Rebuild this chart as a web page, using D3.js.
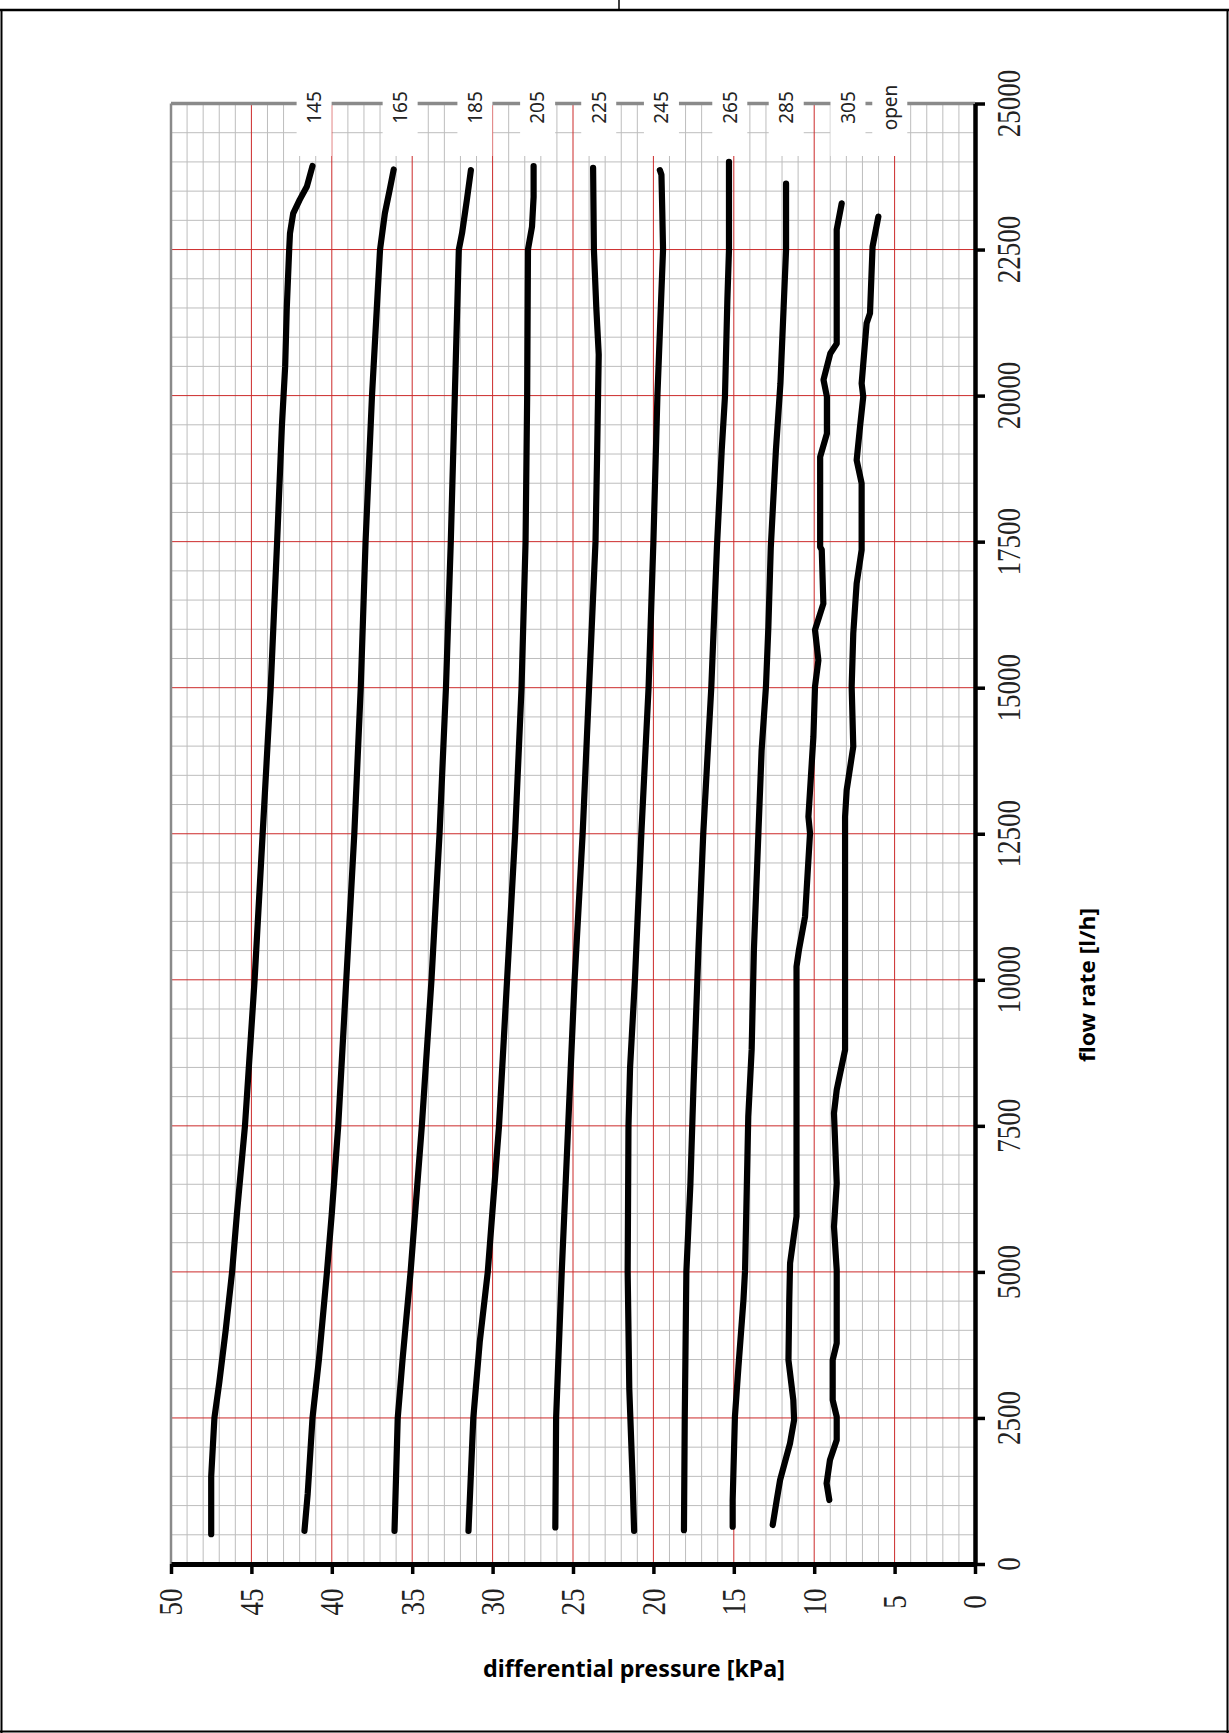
<!DOCTYPE html>
<html>
<head>
<meta charset="utf-8">
<script src="https://cdn.jsdelivr.net/npm/d3@7"></script>
<style>
  body { margin: 0; background: #fff; }
  svg { display: block; }
</style>
</head>
<body>
<svg id="chart" width="1229" height="1733"></svg>
<script>
// legend labels along the top edge, and the pressure (kPa) where each sits
const seriesLabels = ["145", "165", "185", "205", "225", "245", "265", "285", "305", "open"];
const labelAt = [41.1, 35.75, 31.1, 27.2, 23.4, 19.5, 15.25, 11.74, 7.9, 5.3];

// each curve: [flow rate l/h, differential pressure kPa]
const curve145 = [[511,47.5],[1500,47.5],[2500,47.3],[3100,47.0],[4000,46.6],[5000,46.2],[6000,45.9],[7500,45.4],[10000,44.8],[12500,44.3],[15000,43.8],[17500,43.4],[19500,43.1],[20500,42.9],[21500,42.8],[22500,42.65],[22780,42.6],[23120,42.4],[23350,42.0],[23580,41.55],[23930,41.2]];
const curve165 = [[568,41.7],[1200,41.5],[2500,41.2],[3500,40.8],[5000,40.3],[6000,40.0],[7500,39.6],[10000,39.1],[12500,38.6],[15000,38.2],[17500,37.9],[20000,37.5],[21500,37.2],[22500,37.0],[23120,36.7],[23520,36.4],[23870,36.15]];
const curve185 = [[568,36.1],[2500,35.9],[3500,35.6],[5000,35.1],[7500,34.4],[10000,33.8],[12500,33.3],[15000,32.9],[17500,32.6],[20000,32.35],[22500,32.1],[22780,31.9],[23350,31.6],[23860,31.35]];
const curve205 = [[568,31.5],[2500,31.2],[3800,30.8],[5000,30.3],[7500,29.6],[10000,29.1],[12500,28.6],[15000,28.2],[17500,27.95],[20000,27.85],[22500,27.8],[22890,27.55],[23400,27.45],[23930,27.45]];
const curve225 = [[625,26.1],[2500,26.05],[5000,25.7],[7500,25.3],[10000,24.9],[12500,24.4],[15000,24.0],[17500,23.6],[19000,23.5],[20700,23.4],[21500,23.55],[22500,23.7],[23900,23.75]];
const curve245 = [[568,21.2],[1500,21.3],[3000,21.5],[5000,21.6],[7500,21.55],[8500,21.45],[10000,21.15],[12500,20.75],[15000,20.3],[17500,20.0],[20000,19.75],[22500,19.4],[23180,19.45],[23780,19.5],[23860,19.6]];
const curve265 = [[580,18.1],[2500,18.05],[5000,17.95],[6500,17.7],[8230,17.5],[10510,17.2],[12500,16.9],[15000,16.4],[17400,16.05],[19070,15.75],[19980,15.55],[21640,15.4],[22490,15.3],[24000,15.3]];
const curve285 = [[638,15.07],[1095,15.07],[2520,14.93],[3380,14.71],[4520,14.4],[5030,14.3],[7660,14.1],[8800,13.89],[10510,13.75],[12510,13.47],[13930,13.27],[15020,13.0],[16040,12.85],[17400,12.7],[19070,12.38],[20210,12.1],[21520,11.9],[22490,11.75],[23630,11.75]];
const curve305 = [[667,12.58],[1095,12.33],[1440,12.12],[2070,11.5],[2465,11.25],[2810,11.3],[3490,11.6],[4520,11.55],[5150,11.5],[5950,11.1],[10225,11.1],[10510,10.95],[11080,10.57],[12510,10.26],[12790,10.36],[14160,10.05],[15020,9.95],[15470,9.74],[15990,9.95],[16440,9.43],[17360,9.53],[17410,9.63],[18950,9.63],[19350,9.21],[19980,9.21],[20270,9.42],[20720,9.0],[20890,8.6],[22840,8.6],[23290,8.29]];
const curveOpen = [[1095,9.06],[1381,9.23],[1780,9.02],[2123,8.6],[2522,8.6],[2808,8.85],[3492,8.85],[3777,8.6],[5033,8.6],[5775,8.77],[6517,8.6],[7716,8.77],[8115,8.6],[8800,8.08],[12792,8.08],[13250,7.98],[13991,7.57],[15018,7.67],[15930,7.57],[16786,7.36],[17357,7.05],[18497,7.05],[18896,7.36],[19467,7.15],[19981,6.95],[20209,7.05],[21237,6.74],[21408,6.53],[22549,6.37],[23063,6.01]];

const pressureTicks = [50, 45, 40, 35, 30, 25, 20, 15, 10, 5, 0];
const flowTicks = [0, 2500, 5000, 7500, 10000, 12500, 15000, 17500, 20000, 22500, 25000];

const curves = [curve145, curve165, curve185, curve205, curve225, curve245, curve265, curve285, curve305, curveOpen];

const svg = d3.select("#chart");
const W = 1229, H = 1733;

// chart is drawn turned on its side: pressure runs left (50) to right (0), flow bottom to top
const x = d3.scaleLinear().domain([50, 0]).range([171, 975]);
const y = d3.scaleLinear().domain([0, 25000]).range([1564, 103.5]);

// page frame
const frame = svg.append("g").attr("stroke", "#000").attr("fill", "none");
frame.append("line").attr("x1", 0).attr("x2", W).attr("y1", 10).attr("y2", 10).attr("stroke-width", 2.5);
frame.append("line").attr("x1", 619).attr("x2", 619).attr("y1", 0).attr("y2", 10).attr("stroke-width", 1.5);
frame.append("line").attr("x1", 1.5).attr("x2", 1.5).attr("y1", 10).attr("y2", H).attr("stroke-width", 2);
frame.append("line").attr("x1", W - 1.5).attr("x2", W - 1.5).attr("y1", 10).attr("y2", H).attr("stroke-width", 2);
frame.append("line").attr("x1", 0).attr("x2", W).attr("y1", H - 1.5).attr("y2", H - 1.5).attr("stroke-width", 2);

// minor grid: every 1 kPa and every 500 l/h
const grid = svg.append("g");
grid.selectAll(".vminor").data(d3.range(1, 50).filter(d => d % 5 !== 0)).join("line")
  .attr("x1", d => x(d)).attr("x2", d => x(d))
  .attr("y1", y(25000)).attr("y2", y(0))
  .attr("stroke", "#bdbdbd").attr("stroke-width", 1);
grid.selectAll(".hminor").data(d3.range(500, 25000, 500).filter(d => d % 2500 !== 0)).join("line")
  .attr("x1", x(50)).attr("x2", x(0))
  .attr("y1", d => y(d)).attr("y2", d => y(d))
  .attr("stroke", "#bdbdbd").attr("stroke-width", 1);

// major grid in red
grid.selectAll(".vmajor").data(pressureTicks.filter(d => d > 0 && d < 50)).join("line")
  .attr("x1", d => x(d)).attr("x2", d => x(d))
  .attr("y1", y(25000)).attr("y2", y(0))
  .attr("stroke", "#cc2a2a").attr("stroke-width", 1);
grid.selectAll(".hmajor").data(flowTicks.filter(d => d > 0 && d < 25000)).join("line")
  .attr("x1", x(50)).attr("x2", x(0))
  .attr("y1", d => y(d)).attr("y2", d => y(d))
  .attr("stroke", "#cc2a2a").attr("stroke-width", 1);

// gray plot border on left and top
svg.append("line").attr("x1", x(50)).attr("x2", x(50)).attr("y1", y(25000)).attr("y2", y(0))
  .attr("stroke", "#8a8a8a").attr("stroke-width", 2.5);
svg.append("line").attr("x1", x(50)).attr("x2", x(0)).attr("y1", y(25000)).attr("y2", y(25000))
  .attr("stroke", "#8a8a8a").attr("stroke-width", 3.5);

// white boxes behind legend labels (they cut through the top border)
svg.selectAll(".lbox").data(labelAt).join("rect")
  .attr("x", d => x(d) - 17.5).attr("width", 35)
  .attr("y", 88).attr("height", 68)
  .attr("fill", "#fff");

svg.selectAll(".ltext").data(seriesLabels).join("text")
  .attr("transform", (d, i) => `translate(${x(labelAt[i])},107.5) rotate(-90)`)
  .attr("text-anchor", "middle").attr("dy", "0.36em")
  .attr("font-family", "'Noto Sans', sans-serif").attr("font-size", 19)
  .attr("fill", "#222")
  .text(d => d);

// the curves
const line = d3.line().x(d => x(d[1])).y(d => y(d[0]));
svg.append("g").selectAll("path").data(curves).join("path")
  .attr("d", line)
  .attr("fill", "none").attr("stroke", "#000").attr("stroke-width", 6.2)
  .attr("stroke-linecap", "round").attr("stroke-linejoin", "round");

// axes
const bottomAxis = svg.append("g").attr("transform", `translate(0,${y(0)})`)
  .call(d3.axisBottom(x).tickValues(pressureTicks).tickSize(10).tickSizeOuter(0).tickFormat(""));
bottomAxis.select(".domain").attr("stroke", "#000").attr("stroke-width", 5);
bottomAxis.selectAll(".tick line").attr("stroke", "#000").attr("stroke-width", 3.5);

const rightAxis = svg.append("g").attr("transform", `translate(${x(0)},0)`)
  .call(d3.axisRight(y).tickValues(flowTicks).tickSize(10).tickSizeOuter(0).tickFormat(""));
rightAxis.select(".domain").attr("stroke", "#000").attr("stroke-width", 4.5);
rightAxis.selectAll(".tick line").attr("stroke", "#000").attr("stroke-width", 3.5);

// tick labels, turned like the rest of the chart
const serif = "'Liberation Serif', 'Times New Roman', serif";
svg.selectAll(".plabel").data(pressureTicks).join("text")
  .attr("transform", d => `translate(${x(d)},1602) rotate(-90) scale(1,1.25)`)
  .attr("text-anchor", "middle").attr("dy", "0.34em")
  .attr("font-family", serif).attr("font-size", 27).attr("fill", "#222")
  .text(d => d);
svg.selectAll(".flabel").data(flowTicks).join("text")
  .attr("transform", d => `translate(1009,${y(d)}) rotate(-90) scale(1,1.25)`)
  .attr("text-anchor", "middle").attr("dy", "0.34em")
  .attr("font-family", serif).attr("font-size", 27).attr("fill", "#222")
  .text(d => d);

// axis titles
svg.append("text")
  .attr("x", 634).attr("y", 1677)
  .attr("text-anchor", "middle")
  .attr("font-family", "'Noto Sans', sans-serif").attr("font-weight", "bold").attr("font-size", 23)
  .attr("textLength", 302).attr("lengthAdjust", "spacingAndGlyphs")
  .text("differential pressure [kPa]");
svg.append("text")
  .attr("transform", "translate(1087,985) rotate(-90)")
  .attr("text-anchor", "middle").attr("dy", "0.35em")
  .attr("font-family", "'Noto Sans', sans-serif").attr("font-weight", "bold").attr("font-size", 22)
  .attr("textLength", 154).attr("lengthAdjust", "spacingAndGlyphs")
  .text("flow rate [l/h]");
</script>
</body>
</html>
